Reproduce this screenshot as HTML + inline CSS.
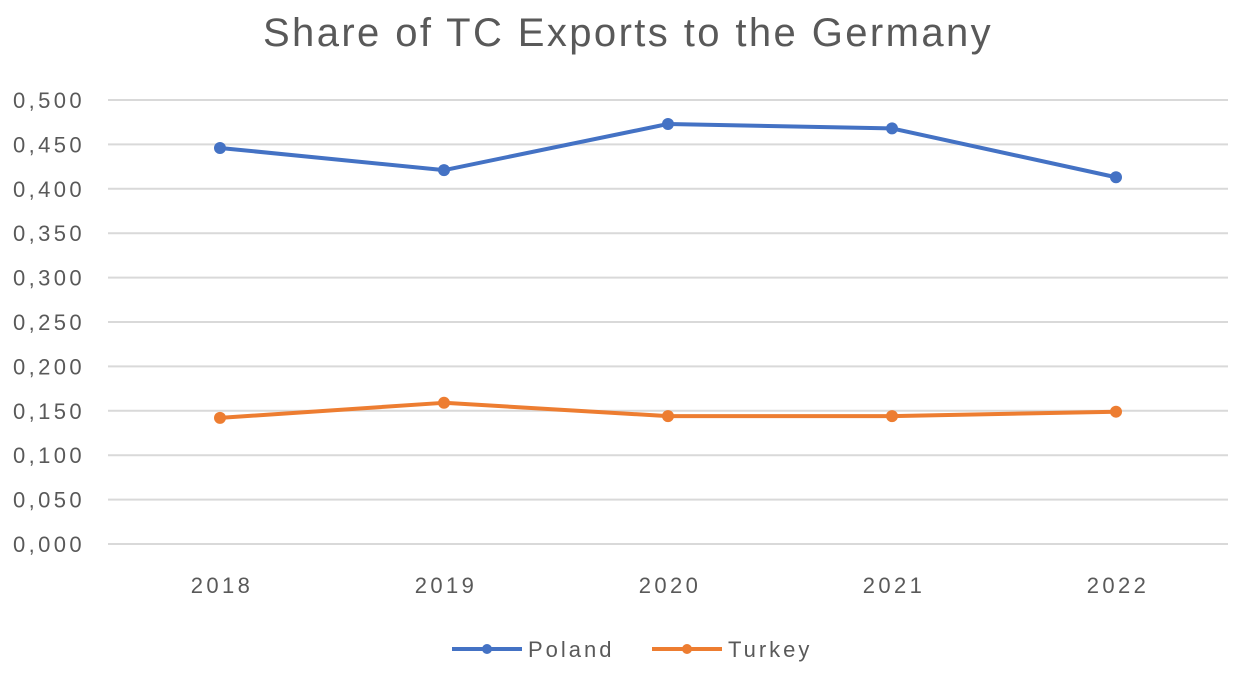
<!DOCTYPE html>
<html><head><meta charset="utf-8"><style>
body{margin:0;background:#fff;}
svg{display:block;font-family:"Liberation Sans",sans-serif;}
</style></head><body>
<svg id="chart" width="1243" height="676">
<text x="628" y="46" text-anchor="middle" font-size="40" letter-spacing="2.4" fill="#595959">Share of TC Exports to the Germany</text>
<g id="grid"></g><g id="series"></g>
<g>
<g><line x1="452" y1="649" x2="522" y2="649" stroke="#4472C4" stroke-width="4"/><circle cx="487" cy="649" r="5" fill="#4472C4"/><text x="528" y="657" font-size="22" letter-spacing="3" fill="#595959">Poland</text></g>
<g><line x1="652" y1="649" x2="722" y2="649" stroke="#ED7D31" stroke-width="4"/><circle cx="687" cy="649" r="5" fill="#ED7D31"/><text x="728" y="657" font-size="22" letter-spacing="3" fill="#595959">Turkey</text></g>
</g>
</svg>
<script>
const categories=["2018","2019","2020","2021","2022"];
const poland=[0.446,0.421,0.473,0.468,0.413];
const turkey=[0.142,0.159,0.144,0.144,0.149];
const ticks=[0,0.05,0.1,0.15,0.2,0.25,0.3,0.35,0.4,0.45,0.5];
const tickLabels=["0,000","0,050","0,100","0,150","0,200","0,250","0,300","0,350","0,400","0,450","0,500"];
const NS="http://www.w3.org/2000/svg";
const x0=108,x1=1228,yb=544,yt=100;
function xs(i){return x0+(i+0.5)*(x1-x0)/categories.length;}
function ys(v){return yb-(v/0.5)*(yb-yt);}
function mk(t,a,p){const e=document.createElementNS(NS,t);for(const k in a)e.setAttribute(k,a[k]);p.appendChild(e);return e;}
const g=document.getElementById('grid');
ticks.forEach((v,i)=>{
 const l=mk('line',{x1:x0,x2:x1,y1:ys(v),y2:ys(v),stroke:'#d9d9d9','stroke-width':2},g);
 
 
 const t=mk('text',{x:85,y:ys(v)+8,'text-anchor':'end','font-size':22,'letter-spacing':3.4,fill:'#595959'},g);
 t.textContent=tickLabels[i];
 
 
});
categories.forEach((c,i)=>{
 const t=mk('text',{x:xs(i)+2,y:593,'text-anchor':'middle','font-size':22,'letter-spacing':3.4,fill:'#595959'},g);
 t.textContent=c;
 
 
});
const s=document.getElementById('series');
[[poland,'#4472C4','poland'],[turkey,'#ED7D31','turkey']].forEach(([d,col,n])=>{
 const p=mk('polyline',{points:d.map((v,i)=>xs(i)+','+ys(v)).join(' '),fill:'none',stroke:col,'stroke-width':4,'stroke-linejoin':'round'},s);
 
 
 d.forEach((v,i)=>{
  const c=mk('circle',{cx:xs(i),cy:ys(v),r:6,fill:col},s);
  
  
 });
});
</script>
</body></html>
